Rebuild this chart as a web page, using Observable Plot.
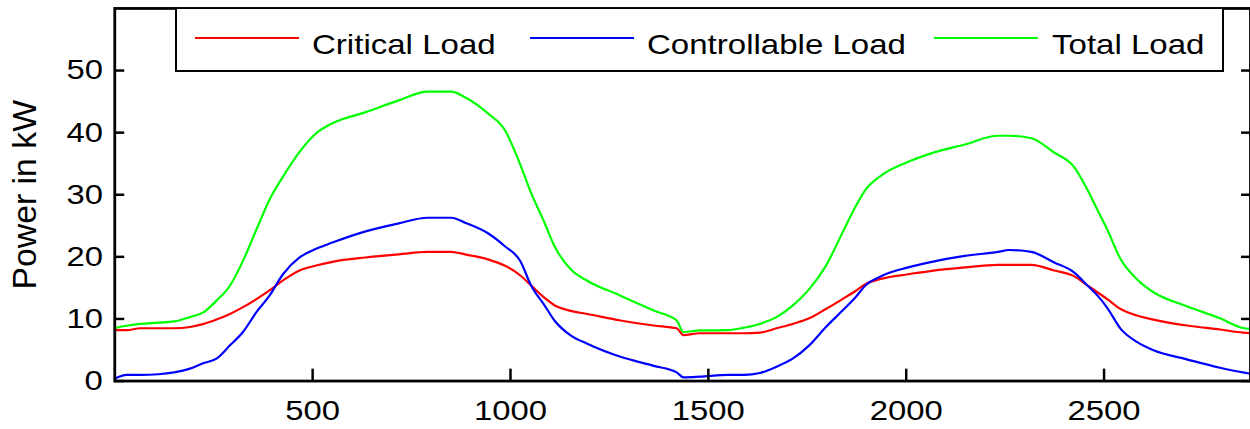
<!DOCTYPE html>
<html><head><meta charset="utf-8">
<script src="https://cdn.jsdelivr.net/npm/d3@7"></script>
<script src="https://cdn.jsdelivr.net/npm/@observablehq/plot@0.6"></script>
<style>
html,body{margin:0;padding:0;overflow:hidden;background:#fff;width:1250px;height:429px}
#wrap{position:relative;width:1250px;height:429px;overflow:hidden}
#wrap svg{position:absolute;left:0;top:0}
#legend{position:absolute;left:175px;top:9px;width:1045px;height:61px;border:2px solid #000;border-top:none;background:#fff;font-family:"Liberation Sans",Arial,sans-serif;font-size:28px;color:#000}
#legend .sw{position:absolute;top:28px;width:104px;height:2px}
#legend .tx{position:absolute;top:22px;line-height:28px;white-space:nowrap;transform:scaleX(1.18);transform-origin:left center}
</style></head>
<body><div id="wrap"></div>
<script>
const xs = [0,30,65,110,150,190,225,257,291,324,358,391,425,467,509,550,634,718,790,850,885,943,985,1025,1052,1086,1111,1152,1194,1278,1362,1420,1437,1478,1550,1590,1630,1672,1713,1755,1797,1839,1872,1897,1939,2005,2065,2148,2232,2260,2316,2374,2424,2458,2483,2508,2542,2583,2625,2709,2793,2851,2870];
const critical = [8.2,8.2,8.5,8.5,8.5,8.7,9.2,9.9,10.8,11.9,13.2,14.6,16.2,17.8,18.6,19.2,19.9,20.4,20.8,20.8,20.4,19.6,18.6,17.0,15.4,13.4,12.2,11.3,10.8,9.75,8.95,8.5,7.4,7.7,7.7,7.7,7.8,8.5,9.2,10.1,11.6,13.2,14.5,15.6,16.5,17.2,17.75,18.3,18.7,18.7,18.7,17.8,16.9,15.4,14.3,13.2,11.6,10.55,9.9,8.95,8.3,7.8,7.7];
const controllable = [0.4,1.0,1.0,1.1,1.4,2.0,2.9,3.6,5.75,7.9,11.1,13.75,17.2,19.9,21.3,22.3,24.1,25.4,26.3,26.3,25.5,23.8,21.75,19.3,15.4,12.2,9.75,7.35,6.0,3.9,2.45,1.4,0.6,0.7,1.0,1.0,1.3,2.3,3.6,5.75,8.7,11.35,13.5,15.4,16.95,18.3,19.2,20.15,20.8,21.1,20.8,19.1,17.5,15.4,13.8,11.8,8.4,6.3,4.95,3.5,2.15,1.4,1.2];
const total = [8.55,8.9,9.2,9.4,9.6,10.3,11.1,12.95,15.35,19.35,24.4,29.2,32.9,36.9,39.9,41.5,43.3,45.2,46.6,46.6,45.7,43.1,40.5,34.8,30.3,25.5,21.75,18.0,16.15,13.75,11.35,9.75,7.9,8.15,8.2,8.6,9.2,10.3,12.15,14.8,18.55,23.9,28.1,30.8,33.2,35.3,36.7,38.1,39.5,39.5,39.1,36.8,34.5,30.8,27.6,24.4,19.6,16.4,14.3,12.05,10.1,8.55,8.4];
const seriesNames = ["Critical Load","Controllable Load","Total Load"];
const seriesColors = ["#ff0000","#0000ff","#00ff00"];
const xTicks = [500,1000,1500,2000,2500];
const yTicks = [0,10,20,30,40,50];
const xMax = 2870, yMax = 60;

const W = 1258, H = 429, ML = 115, MR = 0, MT = 8, MB = 46;
const xTickLen = 12, yTickLen = 10;

const rows = [];
[critical, controllable, total].forEach((arr, k) => arr.forEach((v, i) => rows.push({x: xs[i], y: v, s: seriesNames[k]})));

const chart = Plot.plot({
  width: W, height: H,
  marginLeft: ML, marginRight: MR, marginTop: MT, marginBottom: MB,
  style: {fontFamily: "'Liberation Sans', Arial, sans-serif", fontSize: "28px", color: "#000", background: "transparent"},
  x: {domain: [0, xMax], label: null},
  y: {domain: [0, yMax], label: null},
  color: {domain: seriesNames, range: seriesColors},
  marks: [
    Plot.line(rows, {x: "x", y: "y", z: "s", stroke: "s", strokeWidth: 2.2, curve: "monotone-x"}),
    Plot.axisX({ticks: xTicks, tickSize: -xTickLen, tickPadding: 19 + xTickLen, fontSize: 28, label: null, tickFormat: d => String(d), strokeWidth: 2.5}),
    Plot.axisY({ticks: yTicks, tickSize: -yTickLen, tickPadding: 12 + yTickLen, fontSize: 28, label: "Power in kW", labelAnchor: "center", labelArrow: "none", labelOffset: 103, tickFormat: d => String(d), strokeWidth: 2.5}),
    Plot.axisY({ticks: yTicks, anchor: "right", tickSize: -yTickLen, tickFormat: () => "", label: null, strokeWidth: 2.5}),
    Plot.frame({stroke: "#000", strokeWidth: 2.8})
  ]
});
const wrap = document.getElementById("wrap");
wrap.appendChild(chart);

// horizontal stretch of tick labels to match the reference's aspect
chart.querySelectorAll('g[aria-label="x-axis tick label"] text, g[aria-label="y-axis tick label"] text').forEach(t => {
  const L = t.getComputedTextLength();
  if (L > 0) {
    t.setAttribute("textLength", (L * 1.18).toFixed(1));
    t.setAttribute("lengthAdjust", "spacingAndGlyphs");
  }
});
chart.querySelectorAll('g[aria-label="y-axis label"] text').forEach(t => { t.setAttribute("font-size", "34"); t.style.fontSize = "34px"; });

// legend (HTML overlay inside the frame)
const legend = document.createElement("div");
legend.id = "legend";
const swLeft = [18, 353, 757];
const txLeft = [135, 470, 875];
seriesNames.forEach((name, i) => {
  const sw = document.createElement("div");
  sw.className = "sw"; sw.style.left = swLeft[i] + "px"; sw.style.background = seriesColors[i];
  const tx = document.createElement("div");
  tx.className = "tx"; tx.style.left = txLeft[i] + "px"; tx.textContent = name;
  legend.appendChild(sw); legend.appendChild(tx);
});
wrap.appendChild(legend);
</script>
</body></html>
